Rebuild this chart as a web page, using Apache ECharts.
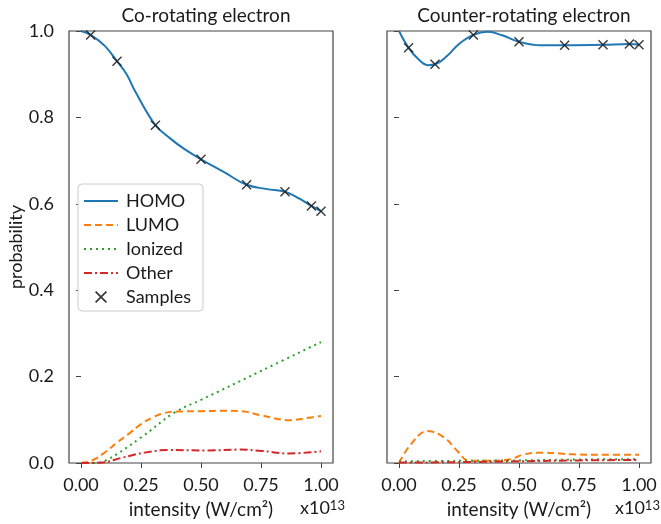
<!DOCTYPE html>
<html>
<head>
<meta charset="utf-8">
<script src="https://cdn.jsdelivr.net/npm/echarts@6/dist/echarts.min.js"></script>
<style>
  html, body { margin: 0; padding: 0; background: #fff; }
  #chart { width: 661px; height: 524px; }
</style>
</head>
<body>
<div id="chart"></div>
<script>
// tick labels
const xTicks = [0, 0.25, 0.5, 0.75, 1.0];
// \u200C keeps the "ti" ligature of Lato from being drawn
const panelTitles = ['Co-rota\u200Cting electron', 'Counter-rota\u200Cting electron'];
const seriesNames = ['HOMO', 'LUMO', 'Ionized', 'Other'];

// co-rotating electron (left panel), [intensity, probability]
const coHomo = [[0, 1.0], [0.04, 0.991], [0.1, 0.965], [0.15, 0.93], [0.19, 0.9], [0.225, 0.861],
  [0.31, 0.782], [0.37, 0.752], [0.43, 0.727], [0.5, 0.703], [0.6, 0.672], [0.69, 0.644],
  [0.775, 0.634], [0.85, 0.628], [0.91, 0.612], [0.96, 0.595], [1.0, 0.583]];
const coLumo = [[0, 0], [0.05, 0.007], [0.1, 0.025], [0.15, 0.047], [0.2, 0.068], [0.25, 0.09],
  [0.3, 0.106], [0.35, 0.116], [0.4, 0.119], [0.5, 0.12], [0.6, 0.121], [0.67, 0.12],
  [0.753, 0.11], [0.871, 0.099], [0.94, 0.104], [1.0, 0.109]];
const coIonized = [[0, 0], [0.05, 0], [0.1, 0.005], [0.25, 0.059], [0.39, 0.117], [0.5, 0.146],
  [0.75, 0.213], [1.0, 0.28]];
const coOther = [[0, 0], [0.086, 0.001], [0.169, 0.012], [0.265, 0.024], [0.36, 0.03], [0.53, 0.029],
  [0.656, 0.031], [0.753, 0.028], [0.864, 0.022], [1.0, 0.027]];
const coSamples = [[0.04, 0.991], [0.15, 0.93], [0.31, 0.782], [0.5, 0.703], [0.69, 0.644],
  [0.85, 0.628], [0.96, 0.595], [1.0, 0.583]];

// counter-rotating electron (right panel)
const ctHomo = [[0, 1.0], [0.04, 0.961], [0.08, 0.935], [0.12, 0.921], [0.15, 0.923], [0.2, 0.942],
  [0.25, 0.97], [0.31, 0.991], [0.37, 0.998], [0.43, 0.99], [0.5, 0.975], [0.59, 0.967],
  [0.69, 0.967], [0.85, 0.968], [0.96, 0.97], [1.0, 0.968]];
const ctLumo = [[0, 0], [0.049, 0.043], [0.118, 0.074], [0.188, 0.059], [0.243, 0.028], [0.292, 0.005],
  [0.382, 0.005], [0.465, 0.009], [0.521, 0.02], [0.597, 0.024], [0.729, 0.02], [0.868, 0.019],
  [1.0, 0.019]];
const ctIonized = [[0, 0.004], [0.25, 0.005], [0.5, 0.006], [0.75, 0.008], [1.0, 0.009]];
const ctOther = [[0, 0.001], [0.25, 0.002], [0.5, 0.004], [0.75, 0.006], [1.0, 0.007]];
const ctSamples = [[0.04, 0.961], [0.15, 0.923], [0.31, 0.991], [0.5, 0.975], [0.69, 0.967],
  [0.85, 0.968], [0.96, 0.97], [1.0, 0.968]];

const FONT = 'Lato';
const TXT = '#1a1a1a';
const colors = ['#1f77b4', '#ff7f0e', '#2ca02c', '#d62728'];
const dashes = ['solid', [7, 4], [2, 4], [8, 3, 2, 3]];
const crossPath = 'path://M0,1L1,0L5,4L9,0L10,1L6,5L10,9L9,10L5,6L1,10L0,9L4,5Z';

const chart = echarts.init(document.getElementById('chart'));

function xAxisFor(idx) {
  return {
    type: 'value', gridIndex: idx, min: -0.05, max: 1.05,
    name: 'intensity (W/cm²)', nameLocation: 'middle', nameGap: 37,
    nameTextStyle: { fontFamily: FONT, fontSize: 19, color: TXT },
    axisLine: { show: false },
    axisTick: { show: true, inside: false, length: 5, customValues: xTicks, lineStyle: { color: '#444' } },
    axisLabel: { customValues: xTicks, fontFamily: FONT, fontSize: 18, color: TXT, margin: 13,
      formatter: v => v.toFixed(2) },
    splitLine: { show: false }
  };
}

function yAxisFor(idx, labels) {
  return {
    type: 'value', gridIndex: idx, min: 0, max: 1, interval: 0.2,
    name: labels ? 'probability' : '', nameLocation: 'middle', nameGap: 41,
    nameTextStyle: { fontFamily: FONT, fontSize: 18, color: TXT },
    axisLine: { show: false },
    axisTick: { show: true, inside: false, length: 5, lineStyle: { color: '#444' } },
    axisLabel: { show: labels, fontFamily: FONT, fontSize: 18, color: TXT, margin: 15,
      formatter: v => v.toFixed(1) },
    splitLine: { show: false }
  };
}

function lineSeries(name, data, k, idx) {
  return {
    name: name, type: 'line', xAxisIndex: idx, yAxisIndex: idx, data: data,
    smooth: 0.4, symbol: 'none', clip: true,
    lineStyle: { color: colors[k], width: 2, type: dashes[k] },
    itemStyle: { color: colors[k] }
  };
}

function sampleSeries(data, idx) {
  return {
    name: 'Samples', type: 'scatter', xAxisIndex: idx, yAxisIndex: idx, data: data,
    symbol: crossPath, symbolSize: 10, z: 5,
    itemStyle: { color: '#222', opacity: 0.9 }
  };
}

const coData = [coHomo, coLumo, coIonized, coOther];
const ctData = [ctHomo, ctLumo, ctIonized, ctOther];
const series = [];
seriesNames.forEach((n, k) => series.push(lineSeries(n, coData[k], k, 0)));
series.push(sampleSeries(coSamples, 0));
seriesNames.forEach((n, k) => series.push(lineSeries(n, ctData[k], k, 1)));
series.push(sampleSeries(ctSamples, 1));

const expLabel = {
  text: '{a|x10}{b|13}',
  rich: {
    a: { fontFamily: FONT, fontSize: 18, fill: TXT, color: TXT },
    b: { fontFamily: FONT, fontSize: 13, fill: TXT, color: TXT, verticalAlign: 'top' }
  }
};

chart.setOption({
  animation: false,
  backgroundColor: '#fff',
  title: [
    { text: panelTitles[0], left: 201, top: 1, textAlign: 'center',
      textStyle: { fontFamily: FONT, fontSize: 19, fontWeight: 'normal', color: TXT } },
    { text: panelTitles[1], left: 519, top: 1, textAlign: 'center',
      textStyle: { fontFamily: FONT, fontSize: 19, fontWeight: 'normal', color: TXT } }
  ],
  grid: [
    { left: 69, right: 328, top: 31, bottom: 61, show: true, borderColor: '#444', borderWidth: 1.2 },
    { left: 387, right: 10, top: 31, bottom: 61, show: true, borderColor: '#444', borderWidth: 1.2 }
  ],
  legend: {
    orient: 'vertical', left: 78, top: 184,
    data: seriesNames.map(n => ({ name: n, itemStyle: { opacity: 0 } })).concat(['Samples']),
    itemWidth: 34, itemHeight: 12, itemGap: 6,
    padding: [8, 12, 5, 5],
    backgroundColor: '#fff', borderColor: '#ccc', borderWidth: 1, borderRadius: 4,
    textStyle: { fontFamily: FONT, fontSize: 18, lineHeight: 18, color: TXT, padding: [0, 0, 0, 3] }
  },
  graphic: [
    { type: 'text', left: 300, top: 499, style: Object.assign({}, expLabel) },
    { type: 'text', left: 615, top: 499, style: Object.assign({}, expLabel) }
  ],
  xAxis: [xAxisFor(0), xAxisFor(1)],
  yAxis: [yAxisFor(0, true), yAxisFor(1, false)],
  series: series
});
</script>
</body>
</html>
